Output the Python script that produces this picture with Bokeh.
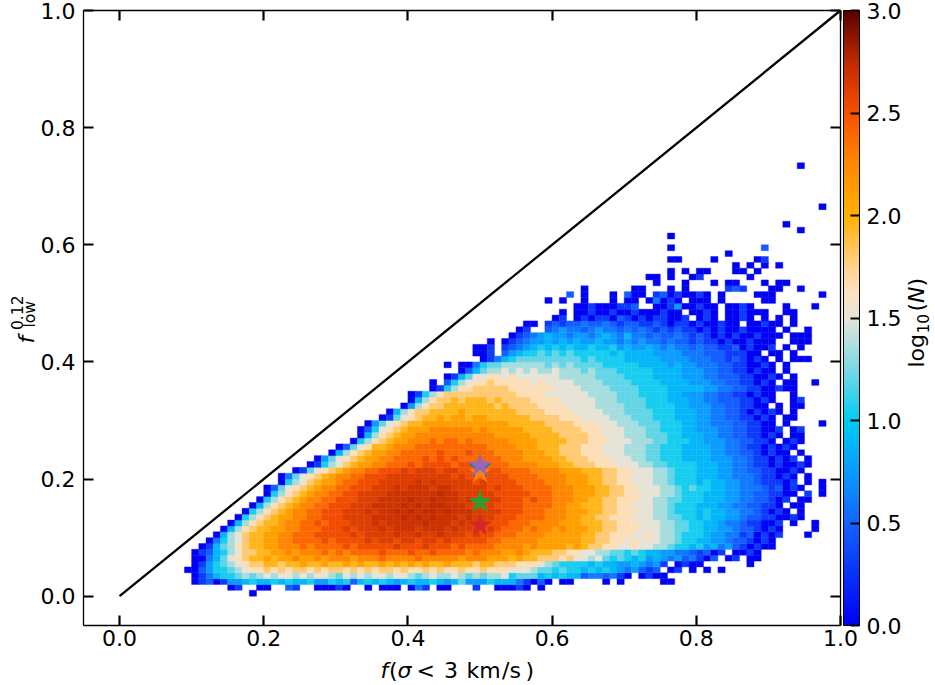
import numpy as np
from math import pi
from bokeh.plotting import figure
from bokeh.models import (ColumnDataSource, LinearColorMapper, ColorBar, FixedTicker,
                          LinearAxis, Range1d, PrintfTickFormatter, Label)
from bokeh.transform import transform
from bokeh.embed import file_html
from bokeh.resources import INLINE

# ---------------------------------------------------------------- data
BIN = 0.01                      # histogram bin width in x and y
X_TICKS = [0.0, 0.2, 0.4, 0.6, 0.8, 1.0]
Y_TICKS = [0.0, 0.2, 0.4, 0.6, 0.8, 1.0]
CBAR_TICKS = [0.0, 0.5, 1.0, 1.5, 2.0, 2.5, 3.0]

# one character per cell = log10(N) level ('.' = empty)
LEVEL_CODES = "0123456789abcdefghij"
LEVEL_VALUES = [0.00, 0.30, 0.48, 0.60, 0.75, 0.90, 1.05, 1.20, 1.35, 1.50,
                1.65, 1.80, 1.95, 2.10, 2.25, 2.40, 2.53, 2.62, 2.69, 2.74]

# (row j -> y bin, first block k0 -> x bin 10*k0, blocks of 10 cells)
HIST_ROWS = [
    (0, 1, "........0."),
    (1, 1, ".....01..0 0..21..000 10..0.000. 031.00...1 ..00010.0."),
    (2, 1, "0120144565 5656556446 5625656545 6556545744 4655531020 .00....0.0 .....00..."),
    (3, 1, "0135667878 9899898998 7989899899 8789889878 7889677756 5655233231 0.0100...."),
    (4, 0, ".........0 02466789aa bababbabab babababbab aababaabaa baaa999877 6766565654 34212.01.0 .0.0"),
    (5, 1, "0146789abb ccbccdccdc cdcdccdcdc dcdccdcccb ccbbbaaa98 7666656554 454341.010 0......0"),
    (6, 1, "003579abcc dcddeddede eedeeefeee efeeeeedee edddcdccbb bab9989767 6564543423 102.01.00"),
    (7, 1, "0125689bbc cddedeeefe feffffgfff gffgffffef eeeddedccc bbaa998877 6765544332 1201.0010"),
    (8, 1, ".01578abcc ddeeefefff fgfggggghg gghgggfgff ffeeeededd ddcdcbbaa9 9a99887665 6453421010 0"),
    (9, 1, "..03689bcc ddeeffffgf gggghghhgh hghhghgggg gffeeeeedd ddddccbbaa 9a99988766 5544322101 0"),
    (10, 1, "...0589bcc ddeefffggg gghghhhhih hihhihhhgh ggfffeeeed ddddccbbaa a99a988766 6544331201 01...0"),
    (11, 1, "....058abc cddeefffgg ghghhhihii ihiiihihhh ghgfffefee dedddccbba aa99988776 6554432210 10....0"),
    (12, 1, ".....058ab ccdeeffgfg gghhhihiii iijiiihihh hgggfffeee edddcccbba aa99988776 6554332110 01.0..0"),
    (13, 1, "......068a bcddeeffgg ghhhhiiiij ijijiiihih hhgggffffe eeddccbbaa a999887766 5655443221 10010"),
    (14, 1, ".......068 abcdeeffgg ghhhihiiji jijjijiiih hhhgggfffe eedddccbba aa99887666 5655443321 010.0"),
    (15, 1, "........05 8abcdeeffg gghhhiiiij ijijjiiihh hhggggffff eeddcccbba a999887666 5554433221 10.00"),
    (16, 1, ".........0 68abcdeeff ggghhhiiii jiijiiihih hhhgggfgff eeeddccbba aa99887766 6555443322 101.00"),
    (17, 2, "068abcdeef fgghhhhiii iiiijiihhh hhgggggfff eeedddccbb aa99988766 6555443322 1100.1.0"),
    (18, 2, "0279abcdee ffggghhhih iiihiihhhh hghgggffff eeedddccbb aa99988767 6655443332 12010..0"),
    (19, 2, "..0689bcdd effggghhhh hihihhhhhg hggggffffe eedddccbba a999887666 5655443321 1101.0.0"),
    (20, 2, "..0379abcd eeffggghhh hhhhhhghgg ggggffffee eedddccbba a999887666 5554433321 1010.0"),
    (21, 2, "....0179ab cdeeffgggh ghhhghhggg gggffffeee edddcccbba a999887666 5554433221 10010"),
    (22, 2, "......0168 9bcddeefff gfggggfggf gfffeeeedd dccbbbaaa9 9988776666 5554433211 010010"),
    (23, 2, ".......047 9abcddeeff ffgfgfgfff fffeeedddd ccbbbaaa99 9887766655 5544433211 0101.0"),
    (24, 2, ".........0 58abcddeef ffffgfffgf ffeeeedddc cbbbaaa999 8887766655 5544332210 100.0"),
    (25, 3, "0279accdee efffffffff feeeedddcc cbbbaaa999 8887766655 5544332110 1010"),
    (26, 3, "..068abcdd eeefeffefe eeeeddddcc ccbbbaaa99 9888776665 5444332211 0.010"),
    (27, 3, "...058abcd deeeeeeeee eedddddccc cbbbbaa999 8887776655 5443322110 10.00"),
    (28, 3, "...0269abc dddeeeeeed edddddcccc bbbbaaa999 8887766655 4443322110 01.01"),
    (29, 3, "....0479ab ccdddddddd ddddcccccb bbbaaa9998 8877766655 4433322110 0.0....0"),
    (30, 3, "......0179 abccdcddcd dccccccbbb baaa999988 8777666555 4433221101 0.00"),
    (31, 3, ".......058 abbccccdcc cccccbbbba aaa9999888 7777666555 4433221010 10.0"),
    (32, 3, ".........0 48abbccccc ccbcbbbbaa aa99998888 7776666554 4433221100 .0.00"),
    (33, 4, "058abbcbcc cbcbbbbaaa a999998887 7776665554 4332221101 0..01"),
    (34, 4, "0168abbbbb bbbbbaaaa9 9999988887 7766665544 4332211010 0..0"),
    (35, 4, "...0168aab bbbbaaaaaa 9999888877 7766665555 5443322110 0100"),
    (36, 4, "...0.2689a abaaaaa9a9 9998888777 7666655554 4433221101 0.00..0"),
    (37, 4, ".....01579 9aa9a99999 9888887777 6666555544 4332221100 10.0"),
    (38, 4, ".......025 7889898988 9888787776 6666555544 4332211010 0.0"),
    (39, 4, ".....0.003 6778888887 8787777666 6655554544 3332211001 0.0"),
    (40, 5, "0135677777 7777676666 5555544443 3322121010 .0.000"),
    (41, 4, ".........0 01.2456676 7676666656 5555444433 322211100. 00.0"),
    (42, 4, ".........0 01.1234565 6565565564 5445434332 3221120100 1.0.0"),
    (43, 5, ".0.0123445 4545445443 4343323221 2110100100 0..000"),
    (44, 5, "....012345 4434434543 5332322321 2101010010 00.000"),
    (45, 5, ".....01..2 3433234332 3232121211 0101001000 0.0..0"),
    (46, 5, "......00.1 2122322321 2211210110 100100.001 00.0"),
    (47, 6, "01.0101102 101011001. 010.0010.0 .0.0"),
    (48, 6, ".0.0010010 01000100.0 010.001000 ..00"),
    (49, 6, "...0010001 12..001400 100.0010.. ..0...0"),
    (50, 5, ".........0 .0..0...0. 00.03010.0 00.0.....0 0"),
    (51, 6, "..2.0...0. 200.120100 10.0....00 0......0"),
    (52, 6, "....0..... .00...0.0. ....121... 00..0"),
    (53, 7, "....0...0. ..0.00...0 .00"),
    (54, 7, "...00.0..0 1......0"),
    (55, 7, "......0.0. 00...00.0"),
    (56, 8, ".....0.0.0 .0"),
    (57, 7, "......00.. ..0.....01"),
    (58, 8, "....0"),
    (59, 7, "......0... .........2"),
    (61, 7, "......0"),
    (62, 9, "....0"),
    (63, 9, "..0"),
    (66, 9, ".......0"),
    (73, 9, "....0"),
]

# diagonal one-to-one line
LINE_X = [0.0, 1.0]
LINE_Y = [0.0, 1.0]

# star markers at f(sigma<3 km/s) = 0.5
STAR_X = [0.5, 0.5, 0.5, 0.5, 0.5]
STAR_Y = [0.220, 0.211, 0.161, 0.121, 0.223]
STAR_COLORS = ["#1f77b4", "#ff7f0e", "#2ca02c", "#d62728", "#9467bd"]

# colormap stops (log10 N -> colour)
CMAP_VALUES = [0.0, 0.25, 0.5, 0.75, 1.0, 1.25, 1.5, 1.62, 1.75, 2.0, 2.25, 2.5, 2.75, 3.0]
CMAP_COLORS = ["#0000f5", "#0a32fa", "#1464ff", "#0a9cff", "#00cbf3", "#7ad8e4", "#e6e4d8",
               "#fce3c2", "#ffd18e", "#ffb000", "#ff8800", "#f85200", "#c02a00", "#5c0000"]

# ---------------------------------------------------------------- build
cx, cy, cv = [], [], []
for j, k0, blocks in HIST_ROWS:
    for k, block in enumerate(blocks.split()):
        for m, ch in enumerate(block[:10]):
            if ch != ".":
                i = 10 * (k0 + k) + m
                cx.append((i + 0.5) * BIN)
                cy.append((j + 0.5) * BIN)
                cv.append(LEVEL_VALUES[LEVEL_CODES.index(ch)])
src = ColumnDataSource(dict(x=cx, y=cy, v=cv))


def _rgb(h):
    return [int(h[k:k + 2], 16) for k in (1, 3, 5)]


rgb = np.array([_rgb(c) for c in CMAP_COLORS], dtype=float)
grid = np.linspace(CMAP_VALUES[0], CMAP_VALUES[-1], 256)
palette = ["#%02x%02x%02x" % tuple(int(round(np.interp(t, CMAP_VALUES, rgb[:, c]))) for c in range(3))
           for t in grid]
mapper = LinearColorMapper(palette=palette, low=0.0, high=3.0)

# canvas geometry (pixels) - the axes box sits inside a full-canvas frame
W, H = 935, 685
BOX_L, BOX_R, BOX_T, BOX_B = 83, 840, 10, 625
X_LO, X_HI, Y_LO, Y_HI = -0.05, 1.0, -0.05, 1.0
SX = (BOX_R - BOX_L) / (X_HI - X_LO)
SY = (BOX_B - BOX_T) / (Y_HI - Y_LO)


def px2x(px):
    return X_LO + (px - BOX_L) / SX


def py2y(py):
    return Y_LO + (BOX_B - py) / SY


p = figure(width=W, height=H, x_range=Range1d(px2x(0), px2x(W)), y_range=Range1d(py2y(H), py2y(0)),
           output_backend="svg", toolbar_location=None, min_border=0)
p.xgrid.visible = False
p.ygrid.visible = False
p.outline_line_color = None
p.background_fill_color = "white"
p.border_fill_color = "white"

FONT = "DejaVu Sans"


def style_axis(ax, ticks, loc, bounds, show_labels, standoff):
    ax.fixed_location = loc
    ax.bounds = bounds
    ax.ticker = FixedTicker(ticks=ticks, minor_ticks=[])
    ax.formatter = PrintfTickFormatter(format="%.1f")
    ax.major_tick_in = 10
    ax.major_tick_out = 0
    ax.major_tick_line_width = 2.2
    ax.major_tick_line_color = "black"
    ax.minor_tick_line_color = None
    ax.axis_line_color = "black"
    ax.axis_line_width = 1.3
    ax.major_label_text_font = FONT
    ax.major_label_text_font_size = "22px"
    ax.major_label_standoff = standoff
    ax.major_label_text_color = "black" if show_labels else None


style_axis(p.xaxis[0], X_TICKS, Y_LO, (X_LO, X_HI), True, 4)
style_axis(p.yaxis[0], Y_TICKS, X_LO, (Y_LO, Y_HI), True, 8)
top_axis = LinearAxis()
style_axis(top_axis, X_TICKS, Y_HI, (X_LO, X_HI), False, 0)
p.add_layout(top_axis, "above")
right_axis = LinearAxis()
style_axis(right_axis, Y_TICKS, X_HI, (Y_LO, Y_HI), False, 0)
p.add_layout(right_axis, "right")

# histogram cells
p.rect(x="x", y="y", width=BIN, height=BIN, source=src,
       fill_color=transform("v", mapper), line_color=transform("v", mapper), line_width=0.4)

# 1:1 line
p.line(LINE_X, LINE_Y, line_color="black", line_width=2.3)

# stars
p.scatter(STAR_X, STAR_Y, marker="star", size=22, fill_color=STAR_COLORS, line_color=STAR_COLORS)

# colour bar (location measured from the frame's bottom-left corner)
cb = ColorBar(color_mapper=mapper, ticker=FixedTicker(ticks=CBAR_TICKS),
              formatter=PrintfTickFormatter(format="%.1f"), width=16, height=BOX_B - BOX_T,
              padding=0, margin=0, location=(843, H - BOX_B),
              label_standoff=7, bar_line_color="black", bar_line_width=1.0,
              major_tick_line_color="black", major_tick_line_width=2, major_tick_in=9,
              major_tick_out=0, minor_tick_line_color=None,
              major_label_text_font=FONT, major_label_text_font_size="22px",
              major_label_text_color="black", border_line_color=None,
              background_fill_color=None)
p.add_layout(cb)

BASE_SHIFT = 0.34   # label baseline correction, fraction of the font size


def add_text(px, py, text, size, style="normal", angle=0.0):
    if angle == 0.0:
        py = py - BASE_SHIFT * size
    else:
        px = px - BASE_SHIFT * size
    p.add_layout(Label(x=px2x(px), y=py2y(py), text=text, text_font=FONT,
                       text_font_size="%gpx" % size, text_font_style=style, text_color="black",
                       angle=angle, text_align="left", text_baseline="alphabetic"))


# x-axis label: f(σ < 3 km/s)
XL0, XLB = 380, 677
for dx, t, st in [(0, "f", "italic"), (8.5, "(", "normal"), (17, "σ", "italic"),
                  (36, "<", "normal"), (63.5, "3", "normal"), (86, "km", "normal"),
                  (121.5, "/s", "normal"), (145, ")", "normal")]:
    add_text(XL0 + dx, XLB, t, 22, st)

# y-axis label: f_low^0.12
add_text(33.5, 343, "f", 22, "italic", pi / 2)
add_text(22.0, 329.5, "0.12", 15.5, "normal", pi / 2)
add_text(35.0, 327, "low", 15.5, "normal", pi / 2)

# colour-bar label: log10(N)
add_text(923.0, 367, "log", 22, "normal", pi / 2)
add_text(927.5, 333, "10", 15.5, "normal", pi / 2)
add_text(923.0, 311, "(", 22, "normal", pi / 2)
add_text(923.0, 302.4, "N", 22, "italic", pi / 2)
add_text(923.0, 285.9, ")", 22, "normal", pi / 2)

open("out.html", "w").write(file_html(p, INLINE, title="histogram"))
